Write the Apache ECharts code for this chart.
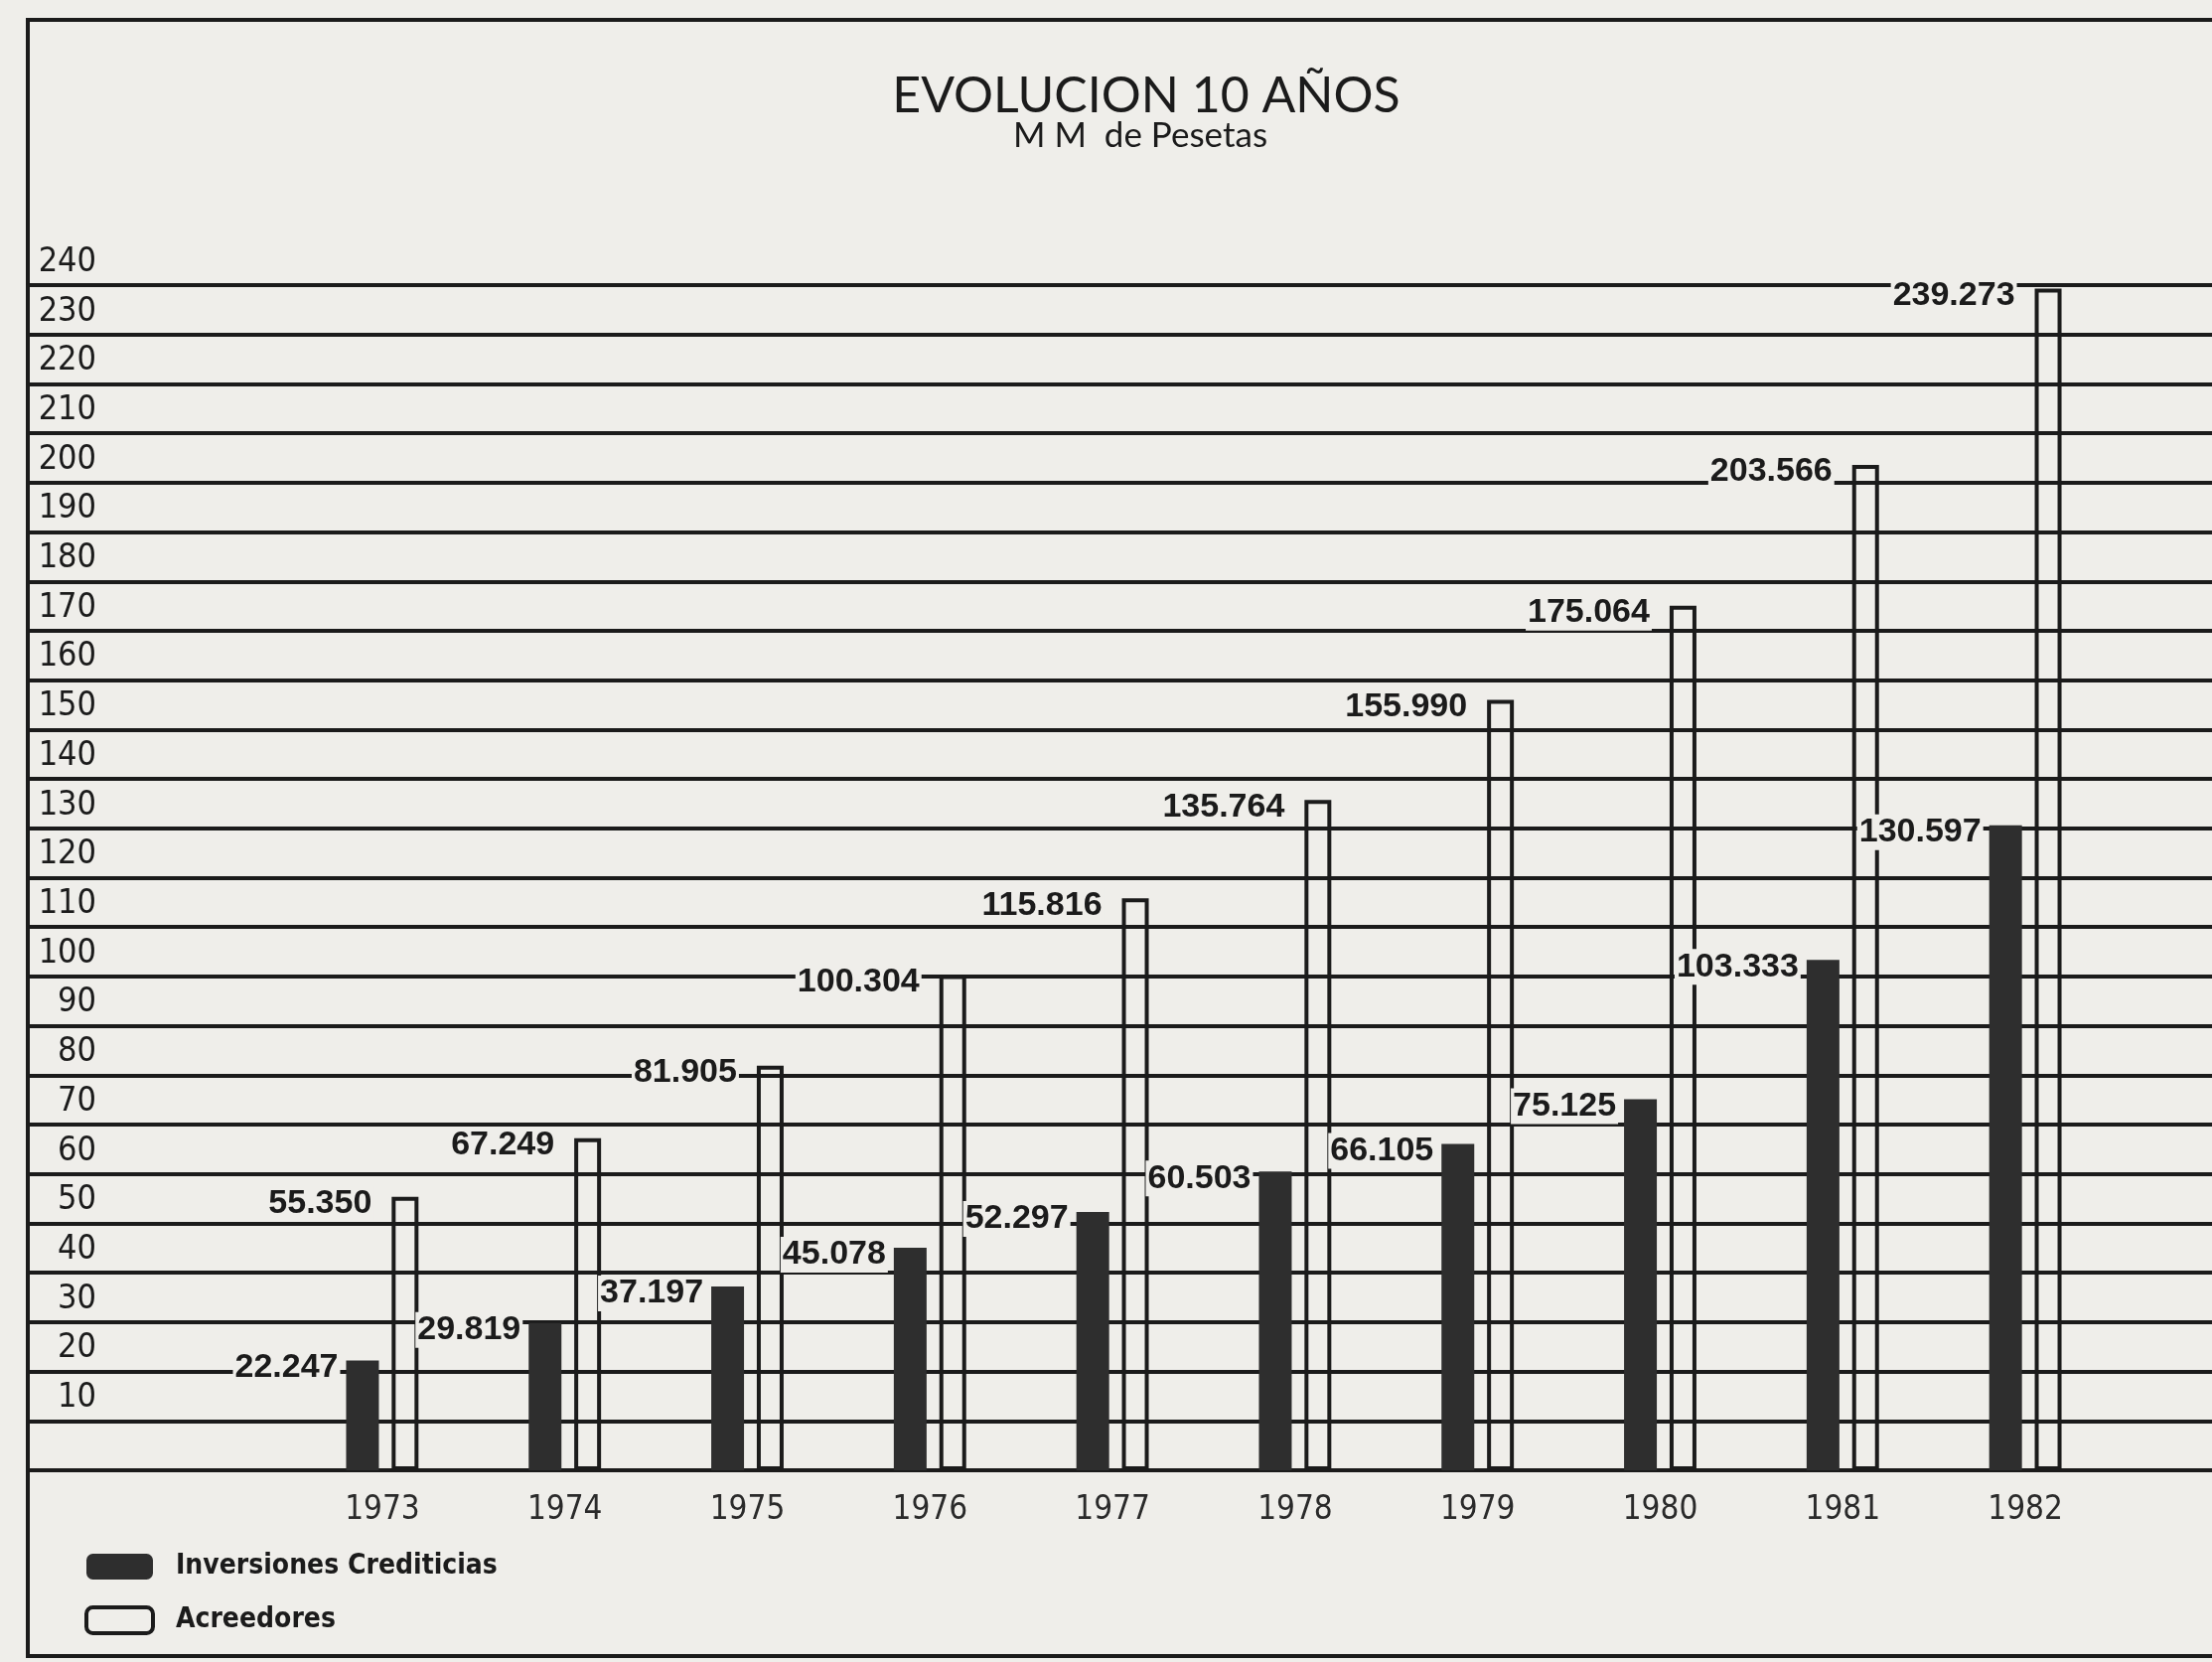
<!DOCTYPE html>
<html>
<head>
<meta charset="utf-8">
<title>Evolucion 10 años</title>
<script src="https://cdn.jsdelivr.net/npm/echarts/dist/echarts.min.js"></script>
<style>
    html, body { margin: 0; padding: 0; background: #efeeea; }
    #main { width: 2227px; height: 1673px; }
</style>
</head>
<body>
<div id="main"></div>
<script>
const years = ['1973', '1974', '1975', '1976', '1977', '1978', '1979', '1980', '1981', '1982'];
// Inversiones Crediticias (barras negras)
const inversiones = [22.247, 29.819, 37.197, 45.078, 52.297, 60.503, 66.105, 75.125, 103.333, 130.597];
// Acreedores (barras blancas)
const acreedores = [55.350, 67.249, 81.905, 100.304, 115.816, 135.764, 155.990, 175.064, 203.566, 239.273];
const yMin = 0;
const yMax = 240;
const yStep = 10;

const paper = '#efeeea';
const ink = '#1b1b1b';
const narrow = "'Liberation Sans Narrow', 'DejaVu Sans Condensed', sans-serif";
const plain = "'Liberation Sans', Arial, sans-serif";

const myChart = echarts.init(document.getElementById('main'));

// etiqueta de valor a la izquierda de la barra, cerca de su parte superior
const valueLabel = (dx) => ({
    show: true,
    position: [dx, 7],
    align: 'right',
    verticalAlign: 'middle',
    fontFamily: plain,
    fontWeight: 'bold',
    fontSize: 34,
    color: ink,
    backgroundColor: paper,
    padding: [1, 2],
    formatter: (p) => p.value.toFixed(3),
});

const option = {
    backgroundColor: paper,
    animation: false,
    title: [
        {
            text: 'EVOLUCION 10 AÑOS',
            left: 1149,
            top: 67,
            textAlign: 'center',
            textStyle: { fontFamily: 'Lato', fontWeight: 'normal', fontSize: 50, color: ink },
        },
        {
            text: 'M M  de Pesetas',
            left: 1143,
            top: 114,
            textAlign: 'center',
            textStyle: { fontFamily: 'Lato', fontWeight: 'normal', fontSize: 35, color: ink },
        },
    ],
    legend: {
        orient: 'vertical',
        left: 80,
        top: 1558,
        itemWidth: 67,
        itemHeight: 26,
        itemGap: 25,
        icon: 'roundRect',
        textStyle: { fontFamily: narrow, fontWeight: 'bold', fontSize: 28, color: ink, padding: [0, 0, 0, 18] },
        data: [
            { name: 'Inversiones Crediticias', itemStyle: { color: '#2e2e2e' } },
            { name: 'Acreedores', itemStyle: { color: 'transparent', borderColor: ink, borderWidth: 4 } },
        ],
    },
    grid: [
        { left: 293, right: 96, top: 287, bottom: 193 },
        { left: 28, right: 0, top: 287, bottom: 193 },
    ],
    xAxis: [
        {
            type: 'category',
            gridIndex: 0,
            data: years,
            axisLine: { show: false },
            axisTick: { show: false },
            axisLabel: { margin: 24, fontFamily: narrow, fontSize: 33, color: '#2a2a2a' },
        },
        { type: 'value', gridIndex: 1, show: false },
    ],
    yAxis: [
        { type: 'value', gridIndex: 0, min: yMin, max: yMax, interval: yStep, show: false },
        {
            type: 'value',
            gridIndex: 1,
            min: yMin,
            max: yMax,
            interval: yStep,
            axisLine: { show: true, lineStyle: { color: ink, width: 4 } },
            axisTick: { show: false },
            splitLine: { show: true, lineStyle: { color: ink, width: 4 } },
            axisLabel: {
                inside: true,
                margin: 69,
                align: 'right',
                verticalAlign: 'bottom',
                padding: [0, 0, 6, 0],
                fontFamily: narrow,
                fontSize: 34,
                color: ink,
                formatter: (v) => (v === 0 ? '' : v),
            },
        },
    ],
    series: [
        {
            name: 'Inversiones Crediticias',
            type: 'bar',
            xAxisIndex: 0,
            yAxisIndex: 0,
            data: inversiones,
            barWidth: 33,
            barGap: '39%',
            itemStyle: { color: '#2e2e2e' },
            label: valueLabel(-6),
        },
        {
            name: 'Acreedores',
            type: 'bar',
            xAxisIndex: 0,
            yAxisIndex: 0,
            data: acreedores,
            barWidth: 27,
            barGap: '39%',
            itemStyle: { color: 'transparent', borderColor: ink, borderWidth: 4 },
            label: valueLabel(-18),
        },
    ],
    graphic: [
        {
            type: 'rect',
            silent: true,
            shape: { x: 28, y: 20, width: 2400, height: 1647 },
            style: { fill: null, stroke: ink, lineWidth: 4 },
        },
    ],
};

myChart.setOption(option);
</script>
</body>
</html>
